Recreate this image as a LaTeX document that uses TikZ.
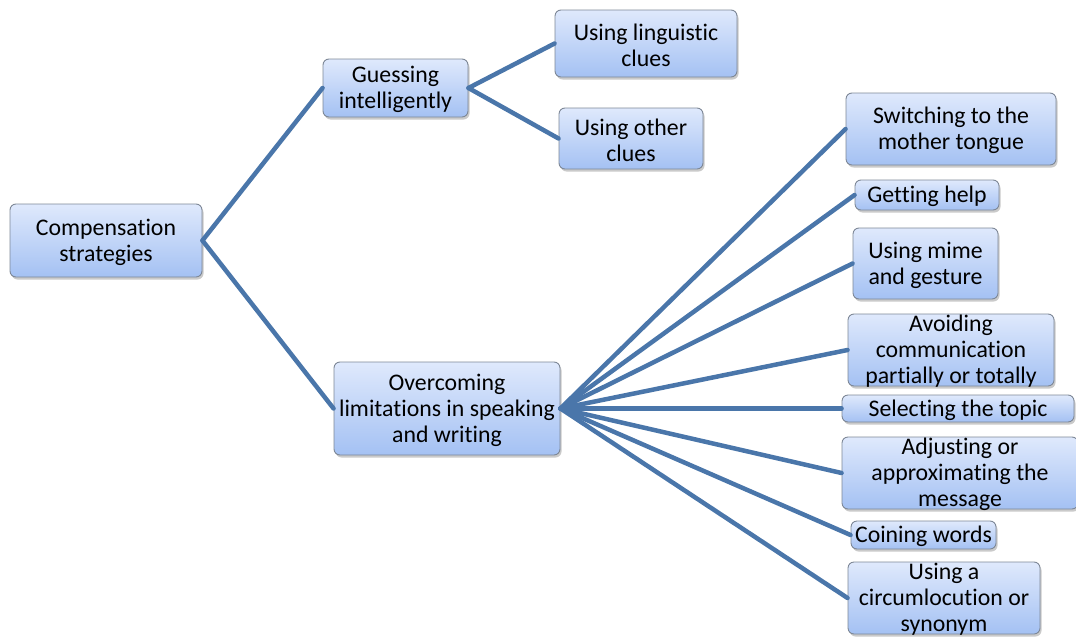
\documentclass[tikz,border=0pt]{standalone}
\usepackage{fontspec}
\setmainfont[Ligatures=NoCommon]{Carlito}
\usetikzlibrary{shadows}
\definecolor{boxtop}{RGB}{223,233,252}
\definecolor{boxbot}{RGB}{164,193,243}
\definecolor{boxedge}{RGB}{125,135,150}
\definecolor{link}{RGB}{74,118,170}
\tikzset{
  box/.style={draw=boxedge, line width=0.9pt, rounded corners=6pt, top color=boxtop, bottom color=boxbot,
    drop shadow={shadow xshift=1.5pt, shadow yshift=-2.5pt, opacity=0.35, fill=black!60}, inner sep=0pt},
  lbl/.style={align=center, font=\fontsize{23.8}{26}\selectfont, inner sep=0pt, text=black},
  link/.style={draw=link, line width=4.5pt, line cap=round}
}
\begin{document}
\begin{tikzpicture}[x=1pt,y=-1pt]
\useasboundingbox (0,0) rectangle (1076,637);
\newcommand{\bx}[5]{\node[box, minimum width=#4pt, minimum height=#5pt] (#1) at (#2,#3) {};}
% boxes
\bx{comp}{106}{240.5}{192}{73}
\bx{guess}{395.5}{88}{145}{58}
\bx{ling}{646}{43.5}{182}{67}
\bx{other}{631}{138.5}{144}{61}
\bx{over}{447}{408.5}{226}{93}
\bx{switch}{951}{129}{210}{72}
\bx{help}{927}{195}{144}{30}
\bx{mime}{925.5}{263.5}{145}{71}
\bx{avoid}{951}{350}{206}{72}
\bx{select}{958}{408.5}{232}{27}
\bx{adjust}{960}{473}{236}{72}
\bx{coin}{923.5}{535}{145}{28}
\bx{circ}{944}{598}{192}{72}
% connectors
\draw[link] (comp.east) -- (guess.west);
\draw[link] (comp.east) -- (over.west);
\draw[link] (guess.east) -- (ling.west);
\draw[link] (guess.east) -- (other.west);
\foreach \t in {switch,help,mime,avoid,select,adjust,coin,circ}
  \draw[link] (over.east) -- (\t.west);
% labels
\node[lbl] at ([yshift=-1.5pt]comp) {Compensation\\strategies};
\node[lbl] at ([yshift=-1.5pt]guess) {Guessing\\intelligently};
\node[lbl] at ([yshift=-1.5pt]ling) {Using linguistic\\clues};
\node[lbl] at ([yshift=-1.5pt]other) {Using other\\clues};
\node[lbl] at ([yshift=-1.5pt]over) {Overcoming\\limitations in speaking\\and writing};
\node[lbl] at ([yshift=-1.5pt]switch) {Switching to the\\mother tongue};
\node[lbl] at ([yshift=-1.5pt]help) {Getting help};
\node[lbl] at ([yshift=-1.5pt]mime) {Using mime\\and gesture};
\node[lbl] at ([yshift=-1.5pt]avoid) {Avoiding\\communication\\partially or totally};
\node[lbl] at ([yshift=-1.5pt]select) {Selecting the topic};
\node[lbl] at ([yshift=-1.5pt]adjust) {Adjusting or\\approximating the\\message};
\node[lbl] at ([yshift=-1.5pt]coin) {Coining words};
\node[lbl] at ([yshift=-1.5pt]circ) {Using a\\circumlocution or\\synonym};
\end{tikzpicture}
\end{document}
